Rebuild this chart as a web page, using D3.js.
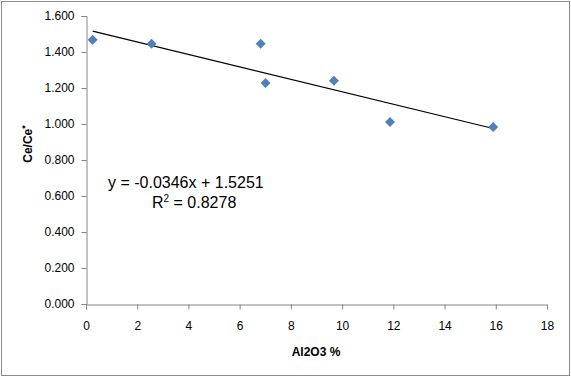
<!DOCTYPE html>
<html>
<head>
<meta charset="utf-8">
<script src="https://cdn.jsdelivr.net/npm/d3@7"></script>
<style>
  html, body { margin: 0; padding: 0; background: #fff; }
  svg { display: block; }
  text { font-family: "Liberation Sans", Arial, sans-serif; fill: #000; }
</style>
</head>
<body>
<svg id="chart" width="571" height="378"></svg>
<script>
// Data
const al2o3 = [0.26, 2.56, 6.82, 7.01, 9.68, 11.87, 15.9];
const ceRatio = [1.468, 1.446, 1.446, 1.228, 1.240, 1.011, 0.983];
const xTicks = [0, 2, 4, 6, 8, 10, 12, 14, 16, 18];
const yTicks = [0, 0.2, 0.4, 0.6, 0.8, 1.0, 1.2, 1.4, 1.6];
const trendSlope = -0.0346;
const trendIntercept = 1.5251;
const equationText = "y = -0.0346x + 1.5251";
const r2Value = "0.8278";
const xTitle = "Al2O3 %";

const svg = d3.select("#chart");

// outer border
svg.append("rect")
  .attr("x", 1.5).attr("y", 1.5)
  .attr("width", 568).attr("height", 374)
  .attr("fill", "#fff")
  .attr("stroke", "#8c8c8c").attr("stroke-width", 1);

const plot = { left: 86, right: 547, top: 16, bottom: 304 };

const x = d3.scaleLinear().domain([0, 18]).range([plot.left, plot.right]);
const y = d3.scaleLinear().domain([0, 1.6]).range([plot.bottom, plot.top]);

const axisColor = "#868686";

// Y axis
const yAxis = svg.append("g")
  .attr("transform", `translate(${plot.left + 0.5},0)`)
  .call(d3.axisLeft(y).tickValues(yTicks).tickFormat(d3.format(".3f")).tickSize(5).tickPadding(7));
// X axis
const xAxis = svg.append("g")
  .attr("transform", `translate(0,${plot.bottom + 0.5})`)
  .call(d3.axisBottom(x).tickValues(xTicks).tickFormat(d3.format("d")).tickSize(5).tickPadding(12));

[yAxis, xAxis].forEach(g => {
  g.selectAll("path.domain").attr("stroke", axisColor);
  g.selectAll(".tick line").attr("stroke", axisColor);
  g.selectAll(".tick text")
    .attr("fill", "#000")
    .style("font-family", "'Liberation Sans', Arial, sans-serif")
    .style("font-size", "12px");
});

// Trendline
const xMin = d3.min(al2o3), xMax = d3.max(al2o3);
svg.append("line")
  .attr("x1", x(xMin)).attr("y1", y(trendSlope * xMin + trendIntercept))
  .attr("x2", x(xMax)).attr("y2", y(trendSlope * xMax + trendIntercept))
  .attr("stroke", "#000").attr("stroke-width", 1.2);

// Points (diamonds)
const diamond = d3.symbol().type(d3.symbolSquare).size(50);
svg.append("g").selectAll("path")
  .data(al2o3.map((v, i) => [v, ceRatio[i]]))
  .join("path")
  .attr("d", diamond)
  .attr("transform", d => `translate(${x(d[0])},${y(d[1])}) rotate(45)`)
  .attr("fill", "#4f81bd");

// Equation labels
svg.append("text")
  .attr("x", 108).attr("y", 188)
  .style("font-size", "16px")
  .text(equationText);
const r2 = svg.append("text")
  .attr("x", 152).attr("y", 208)
  .style("font-size", "16px");
r2.append("tspan").text("R");
r2.append("tspan").attr("dy", -6).style("font-size", "10px").text("2");
r2.append("tspan").attr("dy", 6).text(" = " + r2Value);

// Axis titles
svg.append("text")
  .attr("x", 316).attr("y", 356)
  .attr("text-anchor", "middle")
  .style("font-size", "12px").style("font-weight", "bold")
  .text(xTitle);

const yt = svg.append("text")
  .attr("transform", "translate(32,144) rotate(-90)")
  .attr("text-anchor", "middle")
  .style("font-size", "12px").style("font-weight", "bold");
yt.append("tspan").text("Ce/Ce");
yt.append("tspan").attr("dy", -4).style("font-size", "9px").text("*");
</script>
</body>
</html>
